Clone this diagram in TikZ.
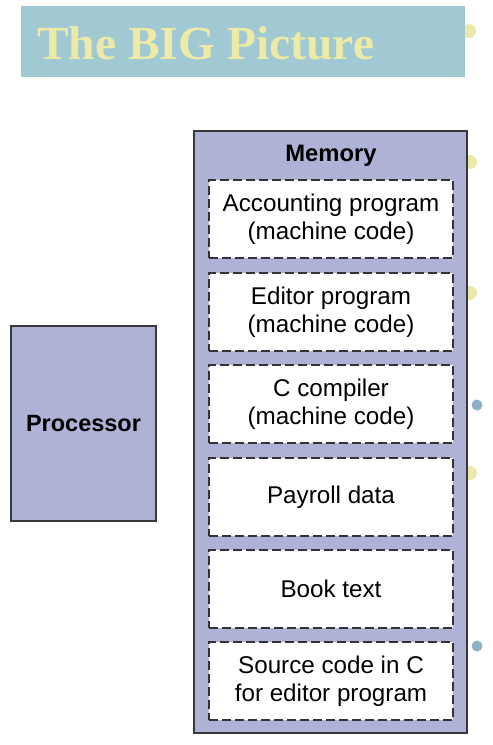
\documentclass[tikz,border=0pt]{standalone}
\usepackage{fontspec}
\setmainfont{Liberation Sans}
\newfontfamily\titlefont{Liberation Serif}
\definecolor{memfill}{RGB}{174,178,214}
\definecolor{titlebg}{RGB}{161,201,212}
\definecolor{titletext}{RGB}{237,233,166}
\definecolor{dotyellow}{RGB}{234,232,170}
\definecolor{dotblue}{RGB}{141,178,200}
\definecolor{edge}{RGB}{55,55,60}
\begin{document}
\begin{tikzpicture}[x=1pt, y=-1pt,
  unit/.style={draw=edge, line width=1.4pt, fill=memfill},
  part/.style={draw=black!80, line width=1.4pt, dash pattern=on 9pt off 4pt, fill=white,
    minimum width=244pt, minimum height=78pt, align=center, inner sep=0pt,
    font=\fontsize{24.2}{28}\selectfont},
  yellowdot/.style={fill=dotyellow, draw=none},
  bluedot/.style={fill=dotblue, draw=none}]
\useasboundingbox (0,0) rectangle (493,745);
% dots behind the boxes
\fill[yellowdot] (469,31) circle (7);
\fill[yellowdot] (470,162) circle (7);
\fill[yellowdot] (470,293) circle (7);
\fill[yellowdot] (470,473) circle (7);
\fill[bluedot] (477,405) circle (5.5);
\fill[bluedot] (477,646) circle (5.5);
% title
\node[fill=titlebg, minimum width=444pt, minimum height=71pt, inner sep=0pt] (banner) at (243,41.5) {};
\node[anchor=base west, inner sep=0pt, text=titletext, font=\titlefont\bfseries\fontsize{47.5}{50}\selectfont] (title) at (37,59) {The BIG Picture};
% processor and memory
\node[unit, minimum width=145pt, minimum height=195pt, inner sep=0pt, font=\bfseries\fontsize{23.5}{27}\selectfont] (proc) at (83.5,423.5) {Processor};
\node[unit, minimum width=273pt, minimum height=602pt, inner sep=0pt] (mem) at (330.5,432) {};
\node[font=\bfseries\fontsize{23.8}{27}\selectfont, inner sep=0pt] (memlabel) at (331,156) {Memory};
\node[part] (acct) at (331,219) {Accounting program\\(machine code)};
\node[part] (editor) at (331,312) {Editor program\\(machine code)};
\node[part] (ccomp) at (331,404) {C compiler\\(machine code)};
\node[part] (payroll) at (331,497) {Payroll data};
\node[part] (book) at (331,589) {Book text};
\node[part] (source) at (331,681) {Source code in C\\for editor program};
\end{tikzpicture}
\end{document}
